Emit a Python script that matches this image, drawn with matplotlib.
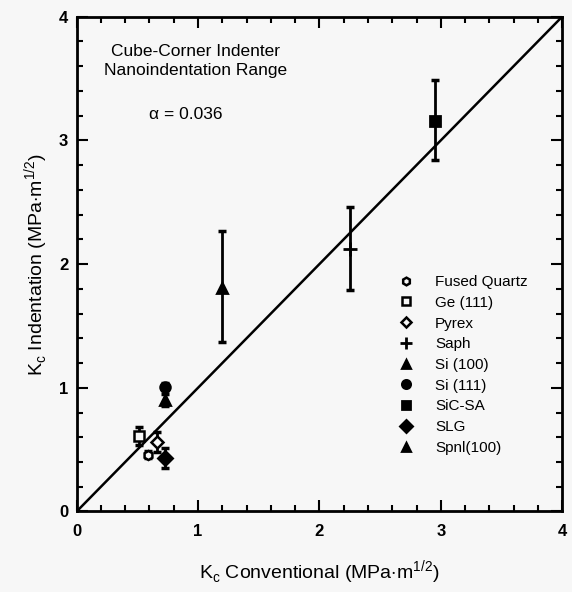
import matplotlib
matplotlib.use("Agg")
import matplotlib.pyplot as plt
from matplotlib.ticker import MultipleLocator

plt.rcParams['font.family'] = ['Liberation Sans', 'DejaVu Sans']
plt.rcParams['mathtext.fontset'] = 'custom'
plt.rcParams['mathtext.rm'] = 'Liberation Sans'

""" 
data
"""
materials = ["Fused Quartz", "Ge (111)", "Pyrex", "Saph", "Si (100)",
             "Si (111)", "SiC-SA", "SLG", "Spnl(100)"]
kc_conv = [0.59, 0.51, 0.66, 2.25, 1.20, 0.73, 2.95, 0.73, 0.73]
kc_ind = [0.46, 0.61, 0.56, 2.12, 1.81, 1.01, 3.16, 0.43, 0.90]
err_low = [0.03, 0.07, 0.08, 0.33, 0.44, 0.03, 0.32, 0.08, 0.05]
err_high = [0.03, 0.07, 0.08, 0.34, 0.46, 0.03, 0.33, 0.08, 0.05]
markers = ["h", "s", "D", "+", "^", "o", "s", "D", "^"]
filled = [False, False, False, True, True, True, True, True, True]
fit_line = [0, 4]
alpha_text = "α = 0.036"

""" 
paint
"""
bg = "#f7f7f7"
fig = plt.figure(figsize=(5.72, 5.92), dpi=100, facecolor=bg)
ax = fig.add_axes([0.134, 0.136, 0.849, 0.836], facecolor=bg)

ax.plot(fit_line, fit_line, color="black", lw=1.8, zorder=1)

for i, name in enumerate(materials):
    ax.errorbar(kc_conv[i], kc_ind[i], yerr=[[err_low[i]], [err_high[i]]],
                fmt="none", ecolor="black", elinewidth=2, capsize=3,
                capthick=2.5, zorder=2)
    ms = 10 if markers[i] == "+" else 7
    if filled[i]:
        ax.plot(kc_conv[i], kc_ind[i], marker=markers[i], ls="none",
                color="black", ms=ms, mew=2, label=name, zorder=3)
    else:
        ax.plot(kc_conv[i], kc_ind[i], marker=markers[i], ls="none",
                mfc=bg, mec="black", ms=6.5, mew=1.8, label=name, zorder=3)

ax.set_xlim(0, 4)
ax.set_ylim(0, 4)
ax.xaxis.set_major_locator(MultipleLocator(1))
ax.yaxis.set_major_locator(MultipleLocator(1))
ax.xaxis.set_minor_locator(MultipleLocator(0.2))
ax.yaxis.set_minor_locator(MultipleLocator(0.2))
ax.tick_params(which="both", direction="in", top=True, right=True,
               width=1.5, labelsize=12)
ax.tick_params(which="major", length=8)
ax.tick_params(which="minor", length=4)
for lbl in ax.get_xticklabels() + ax.get_yticklabels():
    lbl.set_fontweight("bold")
ax.tick_params(axis="x", pad=9)
ax.tick_params(axis="y", pad=6)
for s in ax.spines.values():
    s.set_linewidth(2)

ax.set_xlabel(r"K$_\mathregular{c}$ Conventional (MPa$\cdot$m$^\mathregular{1/2}$)",
              fontsize=14, labelpad=14)
ax.set_ylabel(r"K$_\mathregular{c}$ Indentation (MPa$\cdot$m$^\mathregular{1/2}$)",
              fontsize=14, labelpad=6)

ax.text(0.98, 3.64, "Cube-Corner Indenter\nNanoindentation Range",
        ha="center", va="center", fontsize=12.5, linespacing=1.35)
ax.text(0.90, 3.21, alpha_text, ha="center", va="center", fontsize=12.5)

ax.legend(loc="upper left", bbox_to_anchor=(0.65, 0.49), frameon=False,
          fontsize=11, handlelength=1.0, handletextpad=1.4,
          labelspacing=0.44, borderaxespad=0, markerscale=0.85)

plt.savefig("out.png", dpi=100, facecolor=bg)
